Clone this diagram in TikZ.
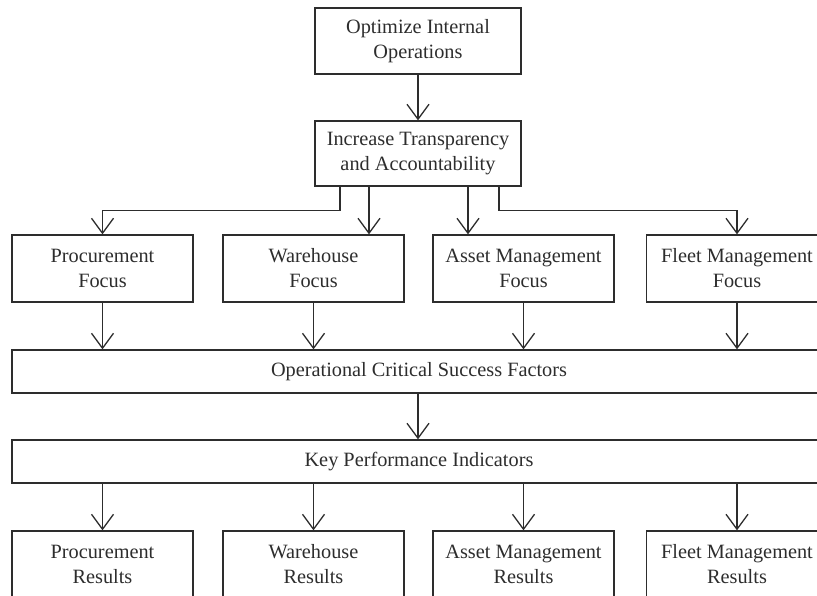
\documentclass[tikz,border=0pt]{standalone}
\usepackage{fontspec}
\setmainfont{Liberation Serif}
\usetikzlibrary{arrows.meta}
\definecolor{ink}{RGB}{45,45,45}
\begin{document}
\begin{tikzpicture}[x=1pt,y=-1pt,
  box/.style={draw=ink, text=ink, line width=1.3pt, align=center, inner sep=0pt,
    font=\fontsize{20.3}{25}\selectfont},
  smallbox/.style={box, minimum width=181pt, minimum height=67pt},
  wide/.style={box, minimum width=814pt, minimum height=43pt},
  arr/.style={draw=ink, line width=1.3pt,
    -{Straight Barb[length=15pt,width=22pt,line width=1.3pt]}}]
\useasboundingbox (0,0) rectangle (817,596);
\clip (0,0) rectangle (817,596);

% top of the hierarchy
\node[box, minimum width=206pt, minimum height=66pt] (opt) at (418,41)
  {Optimize Internal\\Operations};
\node[box, minimum width=206pt, minimum height=65pt] (inc) at (418,153.5)
  {Increase Transparency\\and Accountability};

% focus areas
\node[smallbox] (pf) at (102.5,268.5) {Procurement\\Focus};
\node[smallbox] (wf) at (313.5,268.5) {Warehouse\\Focus};
\node[smallbox] (af) at (523.5,268.5) {Asset Management\\Focus};
\node[smallbox] (ff) at (737,268.5) {Fleet Management\\Focus};

% shared bars
\node[wide] (csf) at (419,371.5) {Operational Critical Success Factors};
\node[wide] (kpi) at (419,461.5) {Key Performance Indicators};

% results
\node[smallbox] (pr) at (102.5,564.5) {Procurement\\Results};
\node[smallbox] (wr) at (313.5,564.5) {Warehouse\\Results};
\node[smallbox] (ar) at (523.5,564.5) {Asset Management\\Results};
\node[smallbox] (fr) at (737,564.5) {Fleet Management\\Results};

% connectors
\draw[arr] (opt.south) -- (inc.north);

\coordinate (i1) at ([xshift=-78pt]inc.south);
\coordinate (i2) at ([xshift=-49pt]inc.south);
\coordinate (i3) at ([xshift=50pt]inc.south);
\coordinate (i4) at ([xshift=81pt]inc.south);
\draw[arr] (i1) -- ++(0,24) -| (pf.north);
\draw[arr] (i2) -- (i2 |- wf.north);
\draw[arr] (i3) -- (i3 |- af.north);
\draw[arr] (i4) -- ++(0,24) -| (ff.north);

\draw[arr] (pf.south) -- (pf.south |- csf.north);
\draw[arr] (wf.south) -- (wf.south |- csf.north);
\draw[arr] (af.south) -- (af.south |- csf.north);
\draw[arr] (ff.south) -- (ff.south |- csf.north);

\coordinate (c1) at ([xshift=-1pt]csf.south);
\draw[arr] (c1) -- (c1 |- kpi.north);

\draw[arr] (pr.north |- kpi.south) -- (pr.north);
\draw[arr] (wr.north |- kpi.south) -- (wr.north);
\draw[arr] (ar.north |- kpi.south) -- (ar.north);
\draw[arr] (fr.north |- kpi.south) -- (fr.north);
\end{tikzpicture}
\end{document}
